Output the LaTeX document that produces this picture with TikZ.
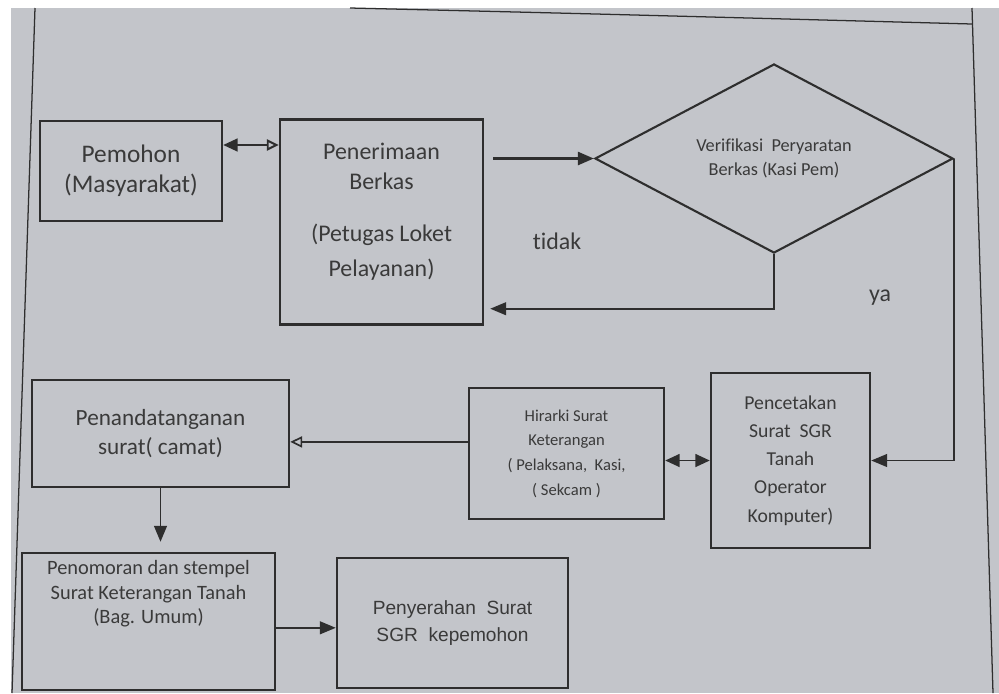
\documentclass[tikz,border=0pt]{standalone}
\usepackage{fontspec}
\setmainfont{Carlito}[Ligatures=NoCommon]
\newfontfamily\arialfont{Liberation Sans}
\usetikzlibrary{positioning, shapes.geometric, arrows.meta}
\definecolor{paper}{HTML}{C3C5CA}
\definecolor{ink}{HTML}{2E2E2E}
\definecolor{inktext}{HTML}{3A3A3A}

\begin{document}
\begin{tikzpicture}[x = 0.025cm, y = -0.025cm,
		box/.style={rectangle, draw = ink, line width = 1.7pt, inner sep = 2pt, align = center, text = inktext},
		decision/.style={diamond, draw = ink, line width = 1.5pt, shape aspect = 1.9, inner sep = 0pt, align = center, text = inktext},
		boxtext/.style={align = center, text = inktext, inner sep = 0pt},
		arrow/.style={draw = ink, line width = 1.4pt, -{Triangle[length = 4mm, width = 3.2mm]}},
		openarrow/.style={draw = ink, line width = 1.2pt, -{Triangle[open, length = 3mm, width = 2.8mm]}},
		biarrow/.style={draw = ink, line width = 1.4pt, {Triangle[length = 3.6mm, width = 3.2mm]}-{Triangle[length = 3.6mm, width = 3.2mm]}},
		frame/.style={draw = ink, line width = 0.9pt},
		bigtext/.style={font = \fontsize{17}{21}\selectfont},
		midtext/.style={font = \fontsize{14}{20}\selectfont},
		smalltext/.style={font = \fontsize{13}{17.5}\selectfont}
	]
	
	% paper and frame
	\useasboundingbox (0, 0) rectangle (999, 693);
	\fill[white] (0, 0) rectangle (999, 693);
	\fill[paper] (11, 8) rectangle (999, 693);
	\draw[frame] (35, 8) -- (12, 693);
	\draw[frame] (350, 8) .. controls (600, 14) .. (972, 24);
	\draw[frame] (972, 8) -- (993, 693);
	
	% top row
	\node[box, font = \fontsize{18}{21}\selectfont, minimum width = 4.55cm, minimum height = 2.5cm] (pemohon) at (131, 171) {Pemohon\\(Masyarakat)};
	
	\node[box, minimum width = 5.075cm, minimum height = 5.125cm] (penerimaan) at (381.5, 222) {};
	\node[boxtext, font = \fontsize{17}{21}\selectfont] (penerimaan text) at (381.5, 212) {Penerimaan\\Berkas\\[16pt](Petugas Loket\\[4pt]Pelayanan)};
	
	\node[decision, smalltext, minimum width = 8.95cm, minimum height = 4.725cm] (verif) at (774, 158.5) {Verifikasi\ \ Peryaratan\\Berkas (Kasi Pem)};
	
	\node[boxtext, bigtext] (tidak) at (557, 241) {tidak};
	\node[boxtext, bigtext] (ya) at (880, 298) {ya};
	
	% middle row
	\node[box, midtext, minimum width = 3.975cm, minimum height = 4.375cm] (pencetakan) at (790.5, 460.5) {Pencetakan\\Surat\ \ SGR\\Tanah\\Operator\\Komputer)};
	
	\node[box, font = \fontsize{11.8}{17.5}\selectfont, minimum width = 4.875cm, minimum height = 3.275cm] (hirarki) at (566.5, 453.5) {Hirarki Surat\\Keterangan\\( Pelaksana,\ \ Kasi,\\( Sekcam )};
	
	\node[box, font = \fontsize{16.5}{21}\selectfont, minimum width = 6.425cm, minimum height = 2.675cm] (penanda) at (160.5, 433.5) {Penandatanganan\\surat( camat)};
	
	% bottom row
	\node[box, minimum width = 6.325cm, minimum height = 3.425cm] (penomoran) at (148.5, 621.5) {};
	\node[boxtext, font = \fontsize{14.5}{17.5}\selectfont] (penomoran text) at (148.5, 594) {Penomoran dan stempel\\Surat Keterangan Tanah\\(Bag. Umum)};
	
	\node[box, font = \arialfont\fontsize{13.6}{19.5}\selectfont, minimum width = 5.775cm, minimum height = 3.25cm] (penyerahan) at (452.5, 623) {Penyerahan\ \ Surat\\SGR\ \ kepemohon};
	
	% connectors
	\draw[arrow, {Triangle[length = 3.6mm, width = 3.2mm]}-{Triangle[open, length = 3mm, width = 2.8mm]}] ([yshift = 6.5mm]pemohon.east) -- ([yshift = 6.5mm]pemohon.east -| penerimaan.west);
	\draw[arrow, line width = 2.2pt] ([xshift = 2.2mm]penerimaan.east |- verif.west) -- (verif.west);
	\draw[arrow] (verif.south) |- ([xshift = 1.5mm, yshift = 4.25mm]penerimaan.south east);
	\draw[arrow] (verif.east) |- (pencetakan.east);
	\draw[biarrow] (hirarki.east |- pencetakan.west) -- (pencetakan.west);
	\draw[openarrow] ([yshift = 2.9mm]hirarki.west) -- ([yshift = 2.9mm]hirarki.west -| penanda.east);
	\draw[arrow] (penanda.south) -- ([yshift = 2.5mm]penanda.south |- penomoran.north);
	\draw[arrow] ([yshift = -1.2mm]penyerahan.west -| penomoran.east) -- ([yshift = -1.2mm]penyerahan.west);
	
\end{tikzpicture}
\end{document}
